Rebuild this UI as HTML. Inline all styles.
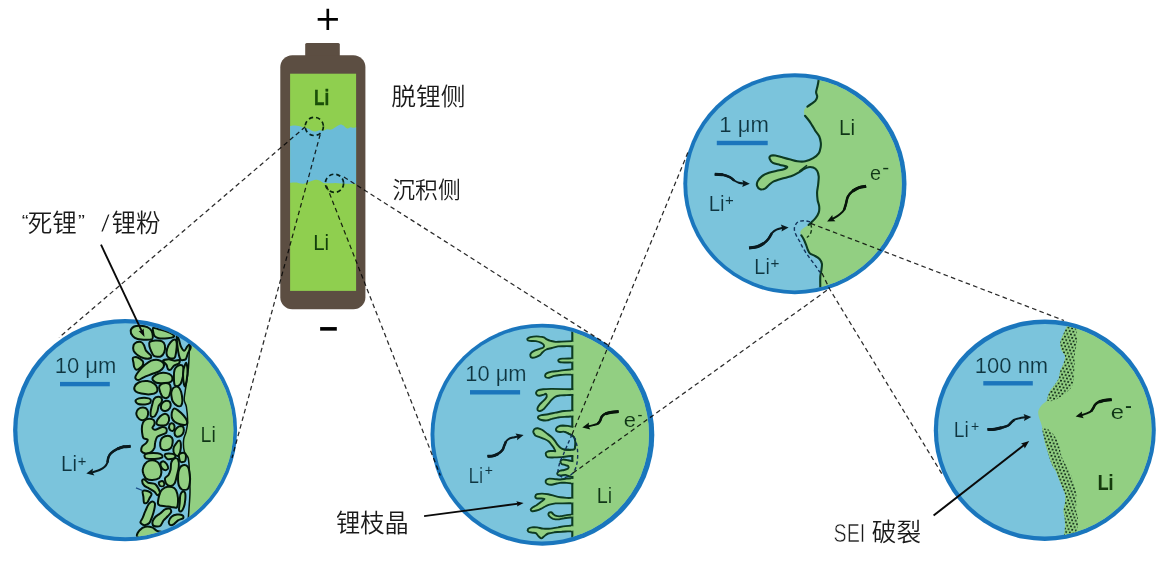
<!DOCTYPE html>
<html lang="zh"><head><meta charset="utf-8">
<style>
html,body{margin:0;padding:0;background:#fff;}
body{width:1167px;height:570px;overflow:hidden;}
svg{display:block;}
text{font-family:"Liberation Sans","Noto Sans CJK SC",sans-serif;}
</style></head><body>
<svg width="1167" height="570" viewBox="0 0 1167 570">
<defs>
<clipPath id="c1"><ellipse cx="125.4" cy="430.2" rx="108" ry="107"/></clipPath>
<clipPath id="c2"><ellipse cx="541.7" cy="434.5" rx="107.3" ry="107"/></clipPath>
<clipPath id="c3"><ellipse cx="794.5" cy="183.8" rx="107.3" ry="106.6"/></clipPath>
<clipPath id="c4"><ellipse cx="1044.8" cy="430.3" rx="106.8" ry="106.3"/></clipPath>
<clipPath id="bat"><rect x="290.1" y="73.7" width="66" height="217.2"/></clipPath>
<pattern id="dots" width="3.7" height="6.3" patternUnits="userSpaceOnUse" patternTransform="rotate(10)"><rect width="3.7" height="6.3" fill="#92cf82"/><g fill="#0c2614"><circle cx="0.95" cy="1.6" r="1.02"/><circle cx="2.8" cy="4.75" r="1.02"/></g></pattern>
</defs>
<g id="battery">
<rect x="305.2" y="43" width="34.6" height="16" rx="1.5" fill="#5c4e42"/>
<rect x="280.3" y="55.3" width="85.1" height="254" rx="12" fill="#5c4e42"/>
<rect x="290.1" y="73.7" width="66" height="217.2" fill="#8fcf4f"/>
<path d="M289 126.2C289.8 126.1 292.2 125.4 294 125.4C295.8 125.4 298 125.8 299.7 126.2C301.4 126.6 302.6 127.4 304 127.8C305.4 128.2 306.7 128.1 308 128.6C309.3 129.1 310.8 130.3 312 130.8C313.2 131.3 314.2 131.6 315.5 131.5C316.8 131.4 318.2 130.3 319.5 130.2C320.8 130 322.1 130.8 323.4 130.6C324.6 130.4 325.7 129.4 327 129.2C328.3 129 330 129.9 331.3 129.6C332.6 129.3 333.9 128.3 335 127.6C336.1 126.9 337 126.1 338 125.6C339 125.1 339.9 124.4 340.8 124.4C341.7 124.4 342.7 125.1 343.5 125.6C344.3 126.1 344.8 127.1 345.5 127.6C346.2 128.1 347.1 128.6 347.9 128.5C348.7 128.4 349.6 127.3 350.5 127.2C351.4 127.1 351.9 127.8 353 127.8C354.1 127.8 356.3 127.1 357 127L357 183.7C355.4 183.7 349.8 183.7 347.1 183.7C344.4 183.7 343 183.6 341 183.5C339 183.4 337.3 182.9 335.3 182.9C333.3 182.9 331 183.3 329 183.3C327 183.3 325 183.4 323.4 182.9C321.8 182.4 320.8 181.1 319.5 180.6C318.2 180.1 317.1 179.5 315.5 179.7C313.9 179.8 312 180.8 310 181.5C308 182.2 305.5 183.4 303.7 183.7C301.9 184 300.3 183.4 299 183.2C297.7 183 297.5 182.6 295.8 182.5C294.1 182.4 290.1 182.8 289 182.9Z" fill="#6bbbd8" clip-path="url(#bat)"/>
</g>
<ellipse cx="125.1" cy="430.1" rx="112" ry="111.2" fill="#1a76bd"/>
<ellipse cx="125.4" cy="430.2" rx="108" ry="107" fill="#7bc4dc"/>
<g clip-path="url(#c1)">
<path d="M190.5 340C190.3 340.8 189.9 339.8 189.6 344.5C189.2 349.2 189.1 360.6 188.4 368.4C187.7 376.1 185.9 385.7 185.2 391C184.5 396.3 184 397.3 184.2 400C184.4 402.7 185.8 403.3 186.4 407C187 410.7 187.7 417.8 187.6 422C187.5 426.2 186.7 429 186 432C185.3 435 183.9 436.7 183.6 440C183.3 443.3 183.6 449 184.4 452C185.2 455 187.3 454.5 188.2 458C189 461.5 189.2 467.3 189.5 473C189.8 478.7 190.1 485.8 190 492C189.9 498.2 189.2 505.3 188.9 510C188.6 514.7 188.4 516.7 188.2 520C188 523.3 187.6 528.3 187.5 530L250 530L250 340Z" fill="#92cf82"/>
<g fill="#92cf82" stroke="#04140a" stroke-width="2.0" stroke-linejoin="round">
<path d="M130.7 330.7C130.9 329.3 132.8 327.2 134.2 326.5C135.6 325.9 138.6 325.7 140.4 325.8C142.3 325.9 145.8 326.5 147.3 327.2C148.8 327.9 150.7 329.5 151.5 330.7C152.2 331.9 152.7 334.4 152.8 335.6C152.9 336.7 153 338.4 152.2 339C151.3 339.6 148.6 339.7 146.6 339.7C144.6 339.7 139.6 339.5 137.7 339C135.7 338.5 133.8 337.4 132.8 336.2C131.8 335.1 130.5 332.1 130.7 330.7Z"/>
<path d="M153.2 327.8C154 327.4 156.9 328.7 158.7 329.2C160.6 329.7 164.3 330.6 166.3 331.3C168.2 332 171.4 333.3 172.5 334.1C173.6 334.8 174.6 336.3 173.9 336.8C173.2 337.4 169.8 338 167.7 338.2C165.5 338.4 160.6 338.5 158.7 338.2C156.9 337.9 155.3 337 154.6 336.2C153.8 335.3 153.4 333.2 153.2 332C153 330.8 152.4 328.2 153.2 327.8Z"/>
<path d="M133.6 345.1C134 343.9 135.3 342.8 136.4 342.3C137.5 341.9 140.2 341.7 141.3 342.1C142.3 342.4 143.3 343.9 143.9 345.1C144.6 346.3 145.1 349.2 146 350.7C147 352.1 150.3 354.4 150.9 355.5C151.5 356.6 151.2 357.9 150.2 358.3C149.2 358.7 145.8 358.8 143.9 358.3C142.1 357.8 138.5 355.9 137.1 354.8C135.7 353.8 134.1 352 133.6 350.7C133.1 349.3 133.2 346.3 133.6 345.1Z"/>
<path d="M149.7 341.9C150.5 341.2 153.5 340.7 155.3 340.6C157 340.5 160.8 340.6 162.1 341.3C163.4 341.9 164.6 343.9 164.9 345.4C165.2 347 164.8 350.8 164.2 352.4C163.6 353.9 162.2 356 160.7 356.5C159.3 357 155.2 356.6 153.9 355.8C152.5 355 151.7 352.3 151.1 351C150.5 349.6 149.6 347.4 149.4 346.1C149.2 344.8 148.9 342.7 149.7 341.9Z"/>
<path d="M166.5 352.1C166.6 350.6 167.7 346.9 168.5 345.2C169.4 343.6 171.7 341.1 172.6 340.3C173.6 339.6 174.8 339.2 175.4 339.7C176 340.1 176.7 342.1 176.8 343.8C176.9 345.6 176.4 350.2 176.1 352.1C175.8 354.1 175.5 356.8 174.7 357.7C173.9 358.6 171.6 358.6 170.6 358.4C169.6 358.2 168 357.2 167.4 356.3C166.9 355.4 166.3 353.7 166.5 352.1Z"/>
<path d="M176.8 335.6C177 334.6 178.3 338.2 178.9 339.7C179.5 341.3 180.2 345.1 181 346.7C181.7 348.2 183.5 350.8 184.3 350.8C185.2 350.8 186.3 347.7 187.1 346.7C187.9 345.7 189.4 343.7 189.9 343.9C190.4 344.1 190.9 346.7 190.6 348.1C190.3 349.4 188.5 352.1 187.8 353.6C187.1 355.2 186.7 358.3 185.7 359.2C184.8 360 181.9 360.4 181 359.9C180 359.3 179.4 356.9 178.9 355C178.4 353.2 177.8 349.4 177.5 346.7C177.2 344 176.6 336.6 176.8 335.6Z"/>
<path d="M132.8 358C133.3 357.2 135.6 356.9 137 357.3C138.3 357.7 141.5 359.8 142.4 360.7C143.3 361.7 143.4 363.2 143.1 364.2C142.8 365.2 141.3 366.9 140.3 367.7C139.4 368.5 137.1 369.9 136.3 369.8C135.4 369.7 134.6 368 134.2 367C133.8 366 133.7 364.1 133.5 362.8C133.3 361.6 132.3 358.7 132.8 358Z"/>
<path d="M135.3 377.3C135.5 375.9 138.1 372.1 139.5 370.4C140.9 368.6 143.4 366.2 145 364.8C146.7 363.4 149.4 361.3 151.2 360.6C153 360 156.5 359.7 158.1 359.9C159.8 360.2 162.2 361.8 163 362.7C163.8 363.7 164.2 365.7 163.7 366.9C163.2 368.1 161.1 370.1 159.5 371.1C158 372 154.8 373 152.6 373.8C150.4 374.7 145.7 376.4 143.7 377.3C141.6 378.2 139.3 380.1 138.1 380.1C136.9 380.1 135.1 378.7 135.3 377.3Z"/>
<path d="M163 360.7C163.3 359.9 167 359.3 168.6 359.3C170.2 359.3 173.2 360.6 174.8 360.7C176.3 360.8 179 359.6 179.6 360C180.2 360.4 179.7 362.7 178.9 363.5C178.1 364.3 175.2 364.7 174.1 365.6C172.9 366.4 171.5 369.2 170.7 369.7C169.8 370.2 168.5 369.7 167.9 369C167.3 368.4 167.2 366 166.5 364.9C165.8 363.7 162.8 361.5 163 360.7Z"/>
<path d="M152.4 378.9C152.3 377.8 154.4 375.7 155.8 374.8C157.3 373.9 160.8 372.8 162.8 372.7C164.7 372.6 168.3 373.4 169.6 374.1C171 374.8 172.2 376.5 172.4 377.6C172.6 378.6 172.1 380.9 171 381.7C169.9 382.5 166.8 383 164.7 383.1C162.7 383.3 158.3 383.4 156.5 382.8C154.8 382.2 152.4 380.1 152.4 378.9Z"/>
<path d="M174.6 369.6C175.1 368.1 176.3 366.7 177.4 366.1C178.5 365.5 181.3 364.9 182.2 365.4C183 365.9 183.5 368 183.6 369.6C183.6 371.2 183.2 374.6 182.9 376.5C182.5 378.5 181.5 382.1 180.8 383.5C180 384.8 178.3 386.1 177.4 386.3C176.5 386.4 175.1 386.2 174.6 384.9C174.1 383.5 173.9 378.7 173.9 376.5C173.9 374.4 174.1 371.1 174.6 369.6Z"/>
<path d="M183.5 369.7C183.9 367.4 185.6 362.8 186.1 362.8C186.7 362.8 187.4 367.4 187.5 369.7C187.6 372 187.2 377.1 186.8 379.4C186.5 381.7 185.4 386.4 184.9 386.4C184.3 386.4 183.4 381.7 183.2 379.4C183 377.1 183.1 372 183.5 369.7Z"/>
<path d="M134.4 387.3C134.8 386.1 136.8 383.4 138.6 382.5C140.4 381.6 145.3 380.9 147.5 381.1C149.7 381.3 153.1 382.9 154.5 383.9C155.8 384.9 156.9 386.9 157.2 388C157.5 389.2 157.5 391.3 156.5 392.2C155.6 393.1 152.4 394.1 150.3 394.3C148.2 394.5 143.4 394 141.4 393.6C139.3 393.2 136.8 392.4 135.8 391.5C134.8 390.6 134 388.6 134.4 387.3Z"/>
<path d="M159.1 387C159.3 385.8 161.2 384.1 162.5 383.6C163.9 383.1 167.5 382.9 168.7 383.6C169.8 384.2 170.7 386.8 170.8 388.4C170.9 390.1 169.9 394 169.4 395.4C168.8 396.7 167.5 397.9 166.6 398.1C165.6 398.3 163.4 397.5 162.5 396.8C161.7 396 160.9 393.9 160.4 392.6C160 391.2 158.8 388.3 159.1 387Z"/>
<path d="M171.4 391.8C171.7 390.7 172.6 388.4 173.5 387.7C174.5 387 177.2 386.4 178.3 387C179.3 387.6 180.5 390 181.1 391.8C181.6 393.7 182.4 398.2 182.4 400.2C182.4 402.1 181.8 404.9 181.1 405.7C180.3 406.5 178 406.3 176.9 405.7C175.7 405.1 173.6 402.9 172.8 401.6C172.1 400.2 171.6 397.4 171.4 396C171.2 394.6 171.1 393 171.4 391.8Z"/>
<path d="M135.5 400.9C135.6 400.2 137.4 398.9 138.9 398.4C140.5 398 144.8 397.7 146.5 397.9C148.1 398 150.2 398.8 150.6 399.5C151.1 400.3 150.7 402.3 150 403C149.2 403.7 146.7 404.3 145.1 404.4C143.5 404.5 139.6 404.5 138.3 404C136.9 403.5 135.4 401.7 135.5 400.9Z"/>
<path d="M150.5 412.7C150.6 411.2 151.4 407.7 151.9 405.8C152.4 403.9 153.1 400.1 154 398.9C154.8 397.6 157 396.9 158.1 396.8C159.1 396.7 161 397.4 161.5 398.2C162 398.9 161.9 401.3 161.5 402.3C161.1 403.4 159.3 404.5 158.7 405.8C158.2 407.1 157.9 409.9 157.4 411.4C156.8 412.8 155.5 415.5 154.7 416.2C153.8 416.9 151.8 417.1 151.2 416.6C150.6 416.1 150.4 414.3 150.5 412.7Z"/>
<path d="M161 405.9C161.2 404.7 162.7 402.4 163.8 401.7C164.8 401 167.6 400.7 168.5 401C169.5 401.3 170.4 402.8 170.6 403.8C170.8 404.8 170.5 407 169.9 408C169.3 408.9 167.6 410.4 166.5 410.7C165.4 411 162.9 410.7 162.1 410C161.3 409.4 160.8 407 161 405.9Z"/>
<path d="M136.3 413.2C136.4 412 137.5 409.8 138.4 409C139.4 408.2 141.9 407.5 143.2 407.6C144.4 407.7 146.7 408.7 147.3 409.7C148 410.7 148.2 413.3 148 414.6C147.8 415.8 146.9 417.9 146 418.7C145 419.5 142.3 420.3 141.2 420.1C140 419.9 138.4 418.3 137.7 417.3C137 416.4 136.2 414.3 136.3 413.2Z"/>
<path d="M171.8 412.7C172.1 411.5 173.2 408.9 173.9 408.6C174.7 408.2 176.1 409 177.4 409.9C178.7 410.9 182.2 413.9 183.6 415.5C184.9 417 186.6 419.8 187 421C187.4 422.3 187.2 424 186.3 424.5C185.5 425 182.4 424.9 180.8 424.5C179.1 424.1 175.9 422.7 174.6 421.7C173.4 420.8 172.2 418.8 171.8 417.6C171.5 416.3 171.6 414 171.8 412.7Z"/>
<path d="M156.6 422C156.9 420.9 158.9 417.6 160 416.5C161.2 415.3 163.6 413.8 164.8 413.7C165.9 413.6 167.7 414.8 168.3 415.8C168.8 416.8 169.2 419.4 169 420.6C168.7 421.9 167.3 424.1 166.2 424.8C165 425.5 162 425.5 160.7 425.5C159.5 425.5 157.8 425 157.2 424.5C156.7 424 156.2 423.2 156.6 422Z"/>
<path d="M169.3 425.3C169.5 424.5 170.7 423.3 171.3 423.2C172 423.1 173.6 423.9 174 424.6C174.5 425.4 174.6 427.9 174.4 428.8C174.2 429.7 173.3 430.8 172.6 430.9C172 431 170.1 430.3 169.7 429.5C169.2 428.7 169 426.2 169.3 425.3Z"/>
<path d="M174.5 433.1C174.5 431.9 175.7 429.2 176.6 428.2C177.5 427.3 179.7 426.2 180.7 426.1C181.6 426.1 183.1 426.7 183.5 427.5C183.8 428.4 183.8 431.2 183.5 432.4C183.1 433.6 181.6 435.3 180.7 435.9C179.7 436.4 177.5 436.9 176.6 436.6C175.7 436.2 174.5 434.3 174.5 433.1Z"/>
<path d="M142.1 425.7C142.4 424 143.2 421.8 144.1 420.8C145.1 419.8 147.7 418.8 149 418.7C150.4 418.6 153 419.3 153.8 420.1C154.5 420.9 154.7 423.2 154.5 424.3C154.3 425.3 152.3 427 152.4 427.7C152.5 428.5 153.8 429.9 155.2 429.8C156.5 429.7 160.5 427.2 162.1 427C163.6 426.9 165.7 427.7 166.3 428.4C166.8 429.2 166.8 431.7 166.3 432.6C165.7 433.5 163.4 434.1 162.1 434.7C160.8 435.3 158.2 435.7 157.2 436.8C156.3 437.8 155.5 440.8 155.2 442.3C154.8 443.9 155 446.5 154.5 447.9C153.9 449.2 152.3 451.3 151.1 452C149.8 452.8 146.9 453.5 145.5 453.4C144.2 453.3 141.9 452.3 141.4 451.3C140.9 450.4 141.4 447.6 142.1 446.5C142.7 445.3 145.5 444 146.2 443C147 442 148 440.2 147.6 439.5C147.2 438.9 144.2 439.1 143.5 438.2C142.7 437.2 142.3 434.3 142.1 432.6C141.9 430.9 141.8 427.3 142.1 425.7Z"/>
<path d="M160.2 442.7C160.4 441.2 161.3 438.8 162.3 437.8C163.4 436.9 166.4 435.8 167.8 435.8C169.1 435.8 171.3 436.9 172 437.8C172.6 438.8 172.8 441.2 172.6 442.7C172.5 444.1 171.6 447.2 170.6 448.2C169.5 449.3 166.5 450.3 165.1 450.3C163.8 450.3 161.6 449.3 160.9 448.2C160.3 447.2 160.1 444.1 160.2 442.7Z"/>
<path d="M176.2 443.4C177 442.2 178.9 440.4 179.5 440.6C180.2 440.8 180.8 443.2 180.9 444.7C181 446.3 180.6 450.1 180.2 451.7C179.8 453.2 178.9 455.5 178.1 455.8C177.4 456.2 175.4 455.4 174.8 454.5C174.1 453.5 173.2 450.5 173.4 448.9C173.6 447.4 175.3 444.5 176.2 443.4Z"/>
<path d="M144.6 454.9C145 454.2 146.9 453.5 148.7 453.2C150.6 453 155.8 453 157.7 453.2C159.5 453.5 161.2 454.3 161.8 454.9C162.4 455.5 162.8 457.1 161.8 457.7C160.9 458.2 157.1 458.9 154.9 459C152.7 459.1 147.4 458.9 146 458.4C144.5 457.8 144.2 455.6 144.6 454.9Z"/>
<path d="M164.6 454.9C164.8 454.1 167.4 453.5 168.8 453.5C170.2 453.5 174.2 454.2 174.9 454.9C175.7 455.5 175.3 457.7 174.3 458.3C173.2 458.9 168.8 459.5 167.4 459C166.1 458.5 164.4 455.6 164.6 454.9Z"/>
<path d="M179 454.7C179.3 453.5 182.1 452.7 183 452.7C184 452.7 185.5 453.6 185.8 454.7C186.1 455.9 185.9 460 185.1 461C184.4 462 181.2 462.6 180.4 461.7C179.5 460.8 178.6 456 179 454.7Z"/>
<path d="M142.7 469.6C142.9 468.3 143.9 465.4 144.8 464.1C145.8 462.8 148 461 149.7 460.6C151.3 460.2 155.1 460.6 156.5 461.3C158 462 159.3 463.9 160 465.5C160.7 467 161.5 470.7 161.4 472.4C161.3 474.2 160.6 476.9 159.3 478C158 479 154.2 480 152.4 480.1C150.5 480.2 147.5 479.5 146.2 478.7C145 477.8 143.9 475.1 143.4 473.8C143 472.5 142.6 471 142.7 469.6Z"/>
<path d="M160.5 463.3C160.7 462.3 162.4 461.1 163.3 461.2C164.2 461.3 166 463 166.7 464C167.3 465 168.3 467.3 168.1 468.2C167.9 469 166.2 470.2 165.3 470.2C164.4 470.2 162.6 469.1 161.9 468.2C161.2 467.2 160.3 464.3 160.5 463.3Z"/>
<path d="M165 478.4C165.3 477.1 167.7 476.2 168.5 474.9C169.3 473.6 170.2 471.1 170.6 469.4C171 467.6 170.7 464 171.3 462.4C171.8 460.9 173.7 458.6 174.7 458.3C175.6 457.9 177.5 458.5 178.1 459.6C178.7 460.8 179 464.3 178.8 466.6C178.6 468.9 177.3 474 176.7 476.3C176.2 478.6 175.5 481.9 174.7 483.2C173.8 484.6 171.7 485.9 170.6 486C169.4 486.1 167.2 485 166.4 483.9C165.6 482.9 164.7 479.6 165 478.4Z"/>
<path d="M178.1 475.7C178.2 473.3 178.8 470.2 179.5 468.7C180.1 467.3 181.8 465.6 182.9 465.3C184.1 465 186.7 465.4 187.7 466.7C188.7 467.9 189.5 472.1 189.8 474.3C190.1 476.5 190.1 480.6 189.8 482.6C189.5 484.7 188.8 487.9 187.7 488.9C186.6 489.8 183.5 490 182.2 489.6C181 489.1 179.4 487.3 178.8 485.4C178.2 483.4 178 478 178.1 475.7Z"/>
<path d="M158.8 482.5C159.1 481.8 161.4 481 162.2 481.1C162.9 481.2 164 482.5 164.2 483.2C164.4 483.9 164.1 485.6 163.5 486C163 486.3 160.8 486.4 160.2 486C159.5 485.5 158.5 483.2 158.8 482.5Z"/>
<path d="M142.1 480.7C142.1 479.8 143.3 479 144.2 479.3C145 479.6 146.8 482.1 148.3 482.8C149.9 483.4 153.7 483.3 155.2 484.1C156.6 485 158 487.7 158.7 489C159.3 490.3 160.2 492.3 160 493.2C159.8 494 158 495.4 157.3 495.2C156.5 495.1 155.6 492.8 154.5 491.8C153.3 490.8 150.5 489.2 149 488.3C147.6 487.4 145.1 486.6 144.2 485.5C143.2 484.5 142.1 481.6 142.1 480.7Z"/>
<path d="M142.7 491.2C143.4 490.4 146.9 490.8 148.2 491.2C149.4 491.6 151.4 493 151.6 494C151.8 495 150.1 497 149.5 498.2C149 499.3 148.2 501.6 147.5 502.3C146.7 503 144.7 503.8 144.1 503C143.5 502.2 143.6 498.4 143.4 496.8C143.2 495.1 142 492 142.7 491.2Z"/>
<path d="M157.9 503.4C157.8 502 158.8 497.1 159.3 495.1C159.9 493.2 160.9 490.7 162.1 489.6C163.3 488.4 165.9 487 167.7 486.8C169.4 486.6 173.2 487.2 174.5 488.2C175.9 489.2 176.8 491.8 177.3 493.7C177.8 495.7 178.1 500.1 178 502.1C177.9 504 177.6 506.9 176.6 507.6C175.6 508.3 172.7 507.1 171 506.9C169.4 506.7 166.4 506.4 164.9 506.2C163.3 506 161 505.9 160 505.5C159.1 505.1 158 504.9 157.9 503.4Z"/>
<path d="M180.4 494.8C180.9 493.1 182.4 491.5 183.1 491.3C183.8 491.1 184.9 492.1 185.2 493.4C185.5 494.6 185.4 498.4 185.2 500.3C185 502.3 184.4 505.7 183.8 507.2C183.2 508.8 181.8 511 181.1 511.4C180.4 511.8 179.2 511.2 179 510C178.8 508.9 179.5 505.2 179.7 503.1C179.9 500.9 179.9 496.4 180.4 494.8Z"/>
<path d="M140.4 522.3C140.2 521.4 141.8 519.7 142.5 518.2C143.2 516.6 144.4 513.2 145.3 511.2C146.1 509.3 147.7 505.6 148.6 504.3C149.6 502.9 151.2 501.6 152.1 501.5C153 501.4 154.6 502.4 154.9 503.6C155.2 504.8 154.6 508 154.2 509.8C153.8 511.7 152.8 514.9 152.1 516.8C151.4 518.6 150.5 521.8 149.3 523C148.2 524.2 145.1 525.2 143.9 525.1C142.6 525 140.6 523.3 140.4 522.3Z"/>
<path d="M152.5 521.9C152.7 520.6 154.2 518.2 155.3 517C156.4 515.8 158.8 514.6 160.1 513.5C161.5 512.5 163.6 510 164.9 509.4C166.3 508.7 168.9 508.3 169.8 508.7C170.6 509.1 171.4 511.1 171.2 512.1C170.9 513.2 168.8 515.1 167.7 516.3C166.6 517.5 164.6 519.1 163.5 520.5C162.5 521.8 161.5 525.2 160.1 526C158.8 526.8 155 526.6 153.9 526C152.8 525.4 152.3 523.1 152.5 521.9Z"/>
<path d="M168.8 521.6C169 520.4 170.4 517.7 171.5 516.7C172.7 515.7 175.5 514.8 177 514.6C178.5 514.4 181.7 514.8 182.5 515.3C183.4 515.8 183.8 517.4 183.2 518.1C182.7 518.8 179.7 519.3 178.4 520.2C177 521 174.8 523.7 173.6 524.3C172.5 525 170.8 525.4 170.2 525C169.5 524.6 168.6 522.7 168.8 521.6Z"/>
<path d="M136.9 535.8C136.6 534.4 138.6 531.5 139.7 530.2C140.9 528.9 143.5 527.1 145.3 526.7C147 526.3 150.5 526.8 152.1 527.4C153.8 528 155.5 530.1 157 530.9C158.4 531.7 163.5 531.7 162.5 533C161.5 534.2 152.8 538.9 150 539.9C147.2 540.9 144.3 540.5 142.5 539.9C140.7 539.3 137.3 537.1 136.9 535.8Z"/>
</g>
<path d="M190.5 340C190.3 340.8 189.9 339.8 189.6 344.5C189.2 349.2 189.1 360.6 188.4 368.4C187.7 376.1 185.9 385.7 185.2 391C184.5 396.3 184 397.3 184.2 400C184.4 402.7 185.8 403.3 186.4 407C187 410.7 187.7 417.8 187.6 422C187.5 426.2 186.7 429 186 432C185.3 435 183.9 436.7 183.6 440C183.3 443.3 183.6 449 184.4 452C185.2 455 187.3 454.5 188.2 458C189 461.5 189.2 467.3 189.5 473C189.8 478.7 190.1 485.8 190 492C189.9 498.2 189.2 505.3 188.9 510C188.6 514.7 188.4 516.7 188.2 520C188 523.3 187.6 528.3 187.5 530" fill="none" stroke="#04140a" stroke-width="1.5"/>
<path d="M136 487.8L142.5 490.5" stroke="#1b4f8a" stroke-width="1.3" fill="none"/>
</g>
<path d="M101 244.7L142.1 331.9" fill="none" stroke="#0a0a0a" stroke-width="1.9" stroke-linecap="butt" stroke-linejoin="round"/>
<path d="M144.5 337L138.6 330.9L141.6 330.8L143.6 328.6Z" fill="#0a0a0a"/>
<path d="M130.5 446.3C129.4 446.4 125.9 446.4 123.7 446.8C121.5 447.2 119.5 447.8 117.4 448.9C115.3 450 112.5 451.8 111 453.2C109.5 454.6 109 455.8 108.4 457.4C107.8 459 108 461 107.4 462.6C106.8 464.2 106 465.6 104.7 466.8C103.4 468 101.4 469.1 99.5 470C97.6 470.9 94.5 471.7 93.2 472.1C91.9 472.5 91.7 472.4 91.4 472.5" fill="none" stroke="#0a1a1f" stroke-width="2.0" stroke-linecap="butt" stroke-linejoin="round"/>
<path d="M130.5 446.3C129.4 446.4 125.9 446.4 123.7 446.8C121.5 447.2 119.5 447.8 117.4 448.9C115.3 450 112.5 451.8 111 453.2C109.5 454.6 109 455.8 108.4 457.4C107.8 459 107.6 461.7 107.4 462.6" fill="none" stroke="#0a1a1f" stroke-width="2.5" stroke-linecap="butt"/>
<path d="M130.5 446.3C129.4 446.4 125.9 446.4 123.7 446.8C121.5 447.2 118.5 448.5 117.4 448.9" fill="none" stroke="#0a1a1f" stroke-width="3" stroke-linecap="butt"/>
<path d="M86.3 473.6L92.9 468.6L92.5 472.2L94.4 475.4Z" fill="#0a1a1f"/>
<rect x="60" y="381.9" width="49.8" height="4.4" fill="#1b75bc"/>
<ellipse cx="542.4" cy="434.7" rx="111.9" ry="111" fill="#1a76bd"/>
<ellipse cx="541.7" cy="434.5" rx="107.3" ry="107" fill="#7bc4dc"/>
<g clip-path="url(#c2)">
<rect x="572.3" y="310" width="100" height="250" fill="#92cf82"/>
<path d="M572.3 320V550" stroke="#0d3a22" stroke-width="2.1" fill="none"/>
<g fill="#92cf82" stroke="#0d3a22" stroke-width="1.9" stroke-linejoin="round">
<path d="M572.5 341.1C570.9 341.2 564.2 341.5 561.7 341.6C559.1 341.7 557.2 342 555.5 341.9C553.9 341.7 551.9 341.2 550.6 340.9C549.3 340.5 547.9 339.9 546.9 339.4C545.9 338.9 545 337.9 543.9 337.4C542.8 337 541.1 336.7 539.6 336.6C538 336.4 535.1 336.4 533.4 336.6C531.8 336.8 529.4 337.3 528.5 337.8C527.6 338.3 527.1 339.2 527.3 339.6C527.5 340.1 528.4 340.7 529.7 340.9C531 341.1 534.2 340.8 535.9 341.1C537.5 341.4 539.6 342.1 540.8 342.7C542 343.3 543.5 344.4 543.9 345.2C544.2 345.9 543.9 347.1 543.2 347.6C542.6 348.2 540.9 348.4 539.6 348.9C538.3 349.3 535.9 350.1 534.6 350.7C533.4 351.3 531.6 352.3 531 353.2C530.3 354 530.2 355.5 530.4 356.2C530.5 356.9 531.3 357.7 532.2 357.8C533.1 357.9 535.3 357.3 536.5 356.8C537.7 356.4 539.3 355.7 540.2 355C541.1 354.3 541.7 353 542.6 352.2C543.6 351.3 544.9 350.1 546.3 349.5C547.7 348.8 550.1 348.5 551.8 348C553.6 347.5 556.1 346.7 558 346.4C559.8 346.1 561.9 346.2 564.1 346.2C566.3 346.1 571.2 346.2 572.5 346.2"/>
<path d="M572.5 358.4C571.2 358.5 566 358.5 564.1 358.6C562.3 358.6 561.1 358.5 560.2 358.8C559.3 359.1 558.2 360 558.2 360.5C558.2 361 559.3 362 560.2 362.2C561.1 362.5 562.3 362.5 564.1 362.5C566 362.5 571.2 362.4 572.5 362.4"/>
<path d="M572.5 369.4C571.2 369.5 566.3 369.9 564.1 370.1C561.9 370.3 559.8 370.7 558 371C556.1 371.2 553.5 371.3 551.8 371.6C550.2 371.9 547.9 372.5 546.9 373.1C545.9 373.6 545.2 374.6 545.1 375.3C545 375.9 545.7 377.1 546.3 377.5C547 377.8 548.2 378 549.4 377.7C550.6 377.5 552.6 376.3 554.3 375.9C556 375.5 558.6 375.2 560.4 375C562.3 374.8 564.8 374.7 566.6 374.6C568.4 374.6 571.6 374.6 572.5 374.6"/>
<path d="M573.2 389.3C571.8 389.3 567.3 389.1 564.1 389.1C560.9 389 555 388.9 551.8 388.9C548.7 389 545.3 389.1 543.2 389.3C541.2 389.5 539.4 389.7 538.3 390.2C537.3 390.6 536.3 391.7 536.1 392.4C535.9 393.1 536.3 394.3 536.9 394.8C537.4 395.3 538.5 395.8 539.6 395.8C540.6 395.8 542.9 394.9 543.9 394.6C544.8 394.3 545.5 393.5 545.9 393.8C546.4 394.2 546.8 395.9 546.7 396.7C546.6 397.5 545.7 398.4 545.1 399.1C544.5 399.9 543.5 400.8 542.6 401.6C541.8 402.4 540.3 403.7 539.6 404.6C538.8 405.6 538 406.9 537.7 407.7C537.4 408.5 537.4 409.7 537.7 410.2C538.1 410.7 539.3 411.2 540.2 411C541.1 410.9 542.8 409.9 543.9 408.9C545 408 546.3 406 547.5 404.6C548.7 403.3 550.6 400.9 551.8 399.7C553 398.5 554.2 397.3 555.5 396.7C556.8 396 558.8 395.7 560.4 395.4C562.1 395.2 564.7 395.2 566.6 395.1C568.5 395 572.2 394.9 573.2 394.8"/>
<path d="M573.2 410.5C571.8 410.6 566.8 410.7 564.1 411C561.5 411.3 557.9 412.2 555.5 412.6C553.1 413.1 550.3 413.9 548.2 414.2C546 414.6 542.9 414.8 541.4 415.1C539.9 415.4 538.8 415.8 538.3 416.3C537.9 416.8 537.9 417.9 538.3 418.4C538.8 419 540.1 419.7 541.4 420C542.7 420.3 545.4 420.6 546.9 420.4C548.5 420.2 550.2 419.2 551.8 418.8C553.5 418.3 555.8 417.9 558 417.5C560.2 417.2 564.3 416.9 566.6 416.7C568.9 416.5 572.2 416.4 573.2 416.3"/>
<path d="M573.2 427C572.4 426.8 569.4 426.1 567.8 425.9C566.3 425.7 564.3 425.5 562.9 425.5C561.5 425.6 559.6 425.9 558.6 426.4C557.6 426.8 556.5 427.9 556.1 428.6C555.8 429.3 556 430.5 556.5 431.1C557.1 431.6 558.7 431.9 559.8 432C561 432.1 563 431.5 564.1 431.7C565.2 431.8 566.2 432.4 567.2 432.9C568.2 433.4 569.9 434.1 570.9 434.7C571.9 435.4 573.3 436.2 573.9 437.2C574.6 438.2 575 439.9 575.2 441.5C575.3 443.1 575.1 446.4 574.9 447.6C574.7 448.8 574.8 449.1 573.9 449.5C573.1 449.8 570.5 449.8 569 449.8C567.6 449.8 565.3 449.7 564.1 449.5C562.9 449.2 562.1 449 561.1 448.2C560 447.5 558.3 445.7 557.4 444.6C556.4 443.5 555.7 442 554.9 440.9C554.1 439.8 553 438.3 551.8 437.2C550.6 436.1 548.4 434.6 546.9 433.5C545.5 432.4 543.4 430.6 542 429.8C540.6 429 538.8 428.4 537.7 428.2C536.6 428.1 535.3 428.5 534.6 429C534 429.4 533.6 430.6 533.4 431.1C533.2 431.6 533.1 431.6 533.4 432.3C533.7 432.9 534.3 434.6 535.3 435.4C536.2 436.1 538.2 436.6 539.6 437.2C540.9 437.7 543.1 438.4 544.5 439C545.9 439.7 547.7 440.6 548.8 441.5C549.9 442.4 551 444.1 551.8 445.2C552.7 446.3 553.8 447.9 554.3 448.9C554.8 449.8 555.3 451 555.3 451.3C555.2 451.6 554.8 450.8 554.1 450.7C553.4 450.7 551.6 450.8 550.6 451C549.6 451.1 548.3 451.2 547.5 451.6C546.8 451.9 545.7 452.6 545.7 453.4C545.7 454.2 546.3 456.5 547.5 457.1C548.8 457.7 552.2 457.4 554.3 457.4C556.4 457.4 559.8 457.2 561.7 457.1C563.5 457 564.8 456.7 566.6 456.5C568.3 456.3 572.2 456 573.2 455.9"/>
<path d="M573.2 461.4C572.4 461.2 569.4 460.5 567.8 460.2C566.3 459.9 564 459.4 562.9 459.6C561.8 459.7 560.6 460.8 560.4 461.4C560.3 462 560.9 463.3 561.7 463.9C562.4 464.4 564.3 464.7 565.4 465.1C566.4 465.5 568.1 465.8 568.4 466.3C568.8 466.9 568.5 468.2 567.8 468.8C567.2 469.3 565.2 469.7 564.1 470C563 470.3 561.4 470.3 560.4 470.6C559.5 470.9 558.4 471.3 558 471.8C557.5 472.4 557 473.7 557.4 474.3C557.7 474.9 559.2 475.4 560.4 475.5C561.6 475.6 564.1 474.8 565.4 474.9C566.6 475 567.9 475.9 569 476.1C570.2 476.4 572.6 476.7 573.2 476.8"/>
<path d="M573.2 478C572.2 478.1 568.5 478.4 566.6 478.6C564.7 478.8 562.3 479.4 560.4 479.5C558.6 479.5 556 479.1 554.3 479C552.6 478.8 550.6 478.5 549.4 478.6C548.2 478.7 546.9 479.3 546.3 479.8C545.8 480.4 545.5 481.6 545.7 482.3C545.9 482.9 546.6 483.8 547.5 484.1C548.5 484.5 550.5 484.8 551.8 484.7C553.2 484.6 555.3 483.8 556.8 483.5C558.2 483.2 560.2 482.7 561.7 482.6C563.1 482.6 564.8 482.8 566.6 482.9C568.3 483 572.2 483.4 573.2 483.5"/>
<path d="M572.7 497.9C571.8 497.9 568.4 498 566.6 497.9C564.7 497.8 562.3 497.6 560.4 497.3C558.6 497 556.1 496.3 554.3 495.8C552.5 495.3 550 494.5 548.2 494.2C546.3 493.9 543.7 493.6 542 493.6C540.4 493.6 538.1 493.8 537.1 494.2C536.1 494.6 535.4 495.7 535.3 496.3C535.2 496.9 535.7 497.9 536.5 498.3C537.3 498.6 539.6 498.4 540.8 498.5C542 498.6 544.4 498.7 544.5 499.1C544.6 499.6 542.6 500.7 541.4 501.6C540.2 502.5 537.9 504.3 536.5 505.3C535.1 506.2 533.1 507.1 532.2 507.7C531.3 508.4 530.7 509 530.7 509.6C530.7 510.1 531.3 511 532.2 511.2C533.1 511.3 535.2 510.9 536.5 510.5C537.8 510.2 539.5 509.6 540.8 508.9C542.1 508.3 543.8 507.1 545.1 506.5C546.4 505.8 547.8 505.1 549.4 504.6C551 504.2 553.5 503.6 555.5 503.4C557.6 503.2 560.3 503.5 562.9 503.4C565.5 503.4 571.2 503.2 572.7 503.2"/>
<path d="M572.7 514.5C571.8 514.6 568.4 514.8 566.6 515.1C564.7 515.4 562.1 516.2 560.4 516.3C558.8 516.4 556.6 516.1 555.5 515.7C554.4 515.3 553.7 514.4 553.1 513.9C552.4 513.3 551.8 512.4 551.2 512.3C550.6 512.1 549.6 512.3 549.1 512.6C548.7 513 548.3 513.8 548.4 514.5C548.5 515.1 549.3 516.3 550 516.9C550.7 517.6 551.9 518.4 553.1 518.8C554.3 519.1 556.3 519.5 558 519.4C559.6 519.3 561.9 518.5 564.1 518.2C566.3 517.8 571.4 517.3 572.7 517.2"/>
<path d="M572.7 525.5C571.6 525.6 567.6 525.9 565.4 526.1C563.1 526.4 560.2 527 558 527.4C555.8 527.7 552.8 528.4 550.6 528.6C548.4 528.8 545.3 528.8 543.2 528.6C541.2 528.4 538.9 527.6 537.1 527.4C535.4 527.2 533 527.1 531.6 527.4C530.2 527.6 528.4 528.6 527.9 529.2C527.4 529.9 527.9 531.2 528.5 531.7C529.2 532.2 531.1 532.4 532.2 532.6C533.3 532.9 535 532.6 535.9 533.1C536.8 533.6 537.5 535.2 538.3 536C539.2 536.8 540.5 538.4 541.4 538.4C542.3 538.4 543.5 536.7 544.5 536C545.5 535.2 546.7 534.1 548.2 533.5C549.6 533 552.3 532.6 554.3 532.3C556.3 532 559.6 531.8 561.7 531.7C563.7 531.5 566.1 531.5 567.8 531.4C569.5 531.4 572 531.4 572.7 531.4"/>
</g>
<g fill="#92cf82">
<rect x="571" y="342" width="3.4" height="3.2"/>
<rect x="571" y="359.3" width="3.4" height="2.1"/>
<rect x="571" y="370.3" width="3.4" height="3.5"/>
<rect x="571" y="390.2" width="3.4" height="3.7"/>
<rect x="571" y="411.4" width="3.4" height="4"/>
<rect x="571" y="427.9" width="3.4" height="7.6"/>
<rect x="571" y="449.4" width="3.4" height="5.6"/>
<rect x="571" y="462.3" width="3.4" height="7.6"/>
<rect x="571" y="470.3" width="3.4" height="5.6"/>
<rect x="571" y="478.9" width="3.4" height="3.7"/>
<rect x="571" y="498.8" width="3.4" height="3.5"/>
<rect x="571" y="515.4" width="3.4" height="0.9"/>
<rect x="571" y="526.4" width="3.4" height="4.1"/>
</g>
<path d="M569 435.6L572.5 436.1L574.3 437.8L575.1 441.5L574.8 447.4L573.7 448.9L569 449Z" fill="#7bc4dc"/>
<path d="M567.2 432.9C567.7 433.2 569.9 434.1 570.9 434.7C571.9 435.4 573.3 436.2 573.9 437.2C574.6 438.2 575 439.9 575.2 441.5C575.3 443.1 575.1 446.4 574.9 447.6C574.7 448.8 574.8 449.1 573.9 449.5C573.1 449.8 570.5 449.8 569 449.8C567.6 449.8 564.9 449.5 564.1 449.5" fill="none" stroke="#0d3a22" stroke-width="1.9" stroke-linejoin="round"/>
</g>
<path d="M572 434.5C571.2 436.2 568.9 441.6 567.4 445C565.9 448.4 564.5 451.7 563.2 454.7C561.9 457.7 560.4 460.1 559.6 463.2C558.8 466.2 557.5 470.6 558.2 473C558.9 475.4 561.5 477.5 564 477.5C566.5 477.5 570.8 475.4 573 473C575.2 470.6 576.2 466.8 577 463C577.8 459.2 577.8 453.8 577.5 450C577.2 446.2 576.4 442.6 575.5 440C574.6 437.4 572.6 435.4 572 434.5" fill="none" stroke="#12325a" stroke-width="1.4" stroke-dasharray="3.6 2.6"/>
<path d="M487.6 456.2C488.5 456.1 491.4 456.3 493.2 455.9C494.9 455.5 496.6 454.8 498.1 453.8C499.6 452.8 501.4 451.4 502.4 450.1C503.4 448.8 503.6 447.2 504.2 445.8C504.8 444.4 505.1 442.7 506 441.5C506.9 440.3 508.3 439.1 509.7 438.4C511.1 437.7 513.1 437.6 514.6 437.2C516.1 436.8 517.9 436.4 518.5 436.2" fill="none" stroke="#0a1a1f" stroke-width="2.0" stroke-linecap="butt" stroke-linejoin="round"/>
<path d="M487.6 456.2C488.5 456.1 491.4 456.3 493.2 455.9C494.9 455.5 496.6 454.8 498.1 453.8C499.6 452.8 501.4 451.4 502.4 450.1C503.4 448.8 503.6 447.2 504.2 445.8C504.8 444.4 505.7 442.2 506 441.5" fill="none" stroke="#0a1a1f" stroke-width="2.5" stroke-linecap="butt"/>
<path d="M487.6 456.2C488.5 456.1 491.4 456.3 493.2 455.9C494.9 455.5 497.3 454.1 498.1 453.8" fill="none" stroke="#0a1a1f" stroke-width="3" stroke-linecap="butt"/>
<path d="M523.6 435L517.1 440.2L517.4 436.5L515.5 433.4Z" fill="#0a1a1f"/>
<path d="M618.5 411.6C617.4 411.7 613.9 411.9 611.7 412.2C609.6 412.5 607.2 413 605.6 413.7C604 414.4 602.8 415.3 601.9 416.5C601 417.7 600.8 419.6 600.1 420.8C599.4 422 598.7 423.2 597.6 423.9C596.5 424.6 594.8 424.7 593.3 425.1C591.8 425.5 589.4 426.1 588.4 426.3C587.4 426.5 587.6 426.5 587.5 426.5" fill="none" stroke="#07140a" stroke-width="2.0" stroke-linecap="butt" stroke-linejoin="round"/>
<path d="M618.5 411.6C617.4 411.7 613.9 411.9 611.7 412.2C609.6 412.5 607.2 413 605.6 413.7C604 414.4 602.8 415.3 601.9 416.5C601 417.7 600.8 419.6 600.1 420.8C599.4 422 598 423.4 597.6 423.9" fill="none" stroke="#07140a" stroke-width="2.5" stroke-linecap="butt"/>
<path d="M618.5 411.6C617.4 411.7 613.9 411.9 611.7 412.2C609.6 412.5 606.6 413.4 605.6 413.7" fill="none" stroke="#07140a" stroke-width="3" stroke-linecap="butt"/>
<path d="M582.3 427.5L589 422.6L588.6 426.3L590.3 429.5Z" fill="#07140a"/>
<path d="M424.1 516.2L518.7 503.6" fill="none" stroke="#0a0a0a" stroke-width="1.8" stroke-linecap="butt" stroke-linejoin="round"/>
<path d="M523.6 503L517 506.6L517.7 503.8L516.3 501.2Z" fill="#0a0a0a"/>
<rect x="470" y="390.1" width="50.1" height="4.4" fill="#1b75bc"/>
<ellipse cx="794.9" cy="183.7" rx="111.6" ry="110.5" fill="#1a76bd"/>
<ellipse cx="794.5" cy="183.8" rx="107.3" ry="106.6" fill="#7bc4dc"/>
<g clip-path="url(#c3)">
<path d="M819.2 76C819.1 76.5 818.9 78 818.7 79.5C818.5 81 818 83.9 817.6 85.8C817.2 87.7 816.2 90.4 816.1 92.1C816 93.8 817.3 95.5 817.2 96.8C817.1 98.1 816.2 99.7 815.3 100.8C814.4 101.9 812.5 103 811.3 103.9C810.1 104.8 808.4 105.8 807.4 106.6C806.4 107.4 805.1 108.5 804.6 109.2C804.1 109.9 804 110.7 803.9 111.4C803.8 112.1 804 112.9 804.2 113.6C804.4 114.3 804.3 114.8 805 115.8C805.7 116.8 807.8 119.1 808.9 120.5C810 121.9 811.1 123.8 812.1 125.3C813.1 126.8 814.2 129.2 815.3 130.8C816.4 132.5 818.4 134.5 819.2 136.3C820 138.1 820.6 140.9 820.8 142.6C821 144.3 820.9 145.9 820.6 147.5C820.3 149.1 819.8 151.8 818.7 153.4C817.6 155 815.2 157 813.2 158.2C811.2 159.4 807.7 160.8 805.3 161.3C802.9 161.8 799.8 161.6 797.4 161.3C795 161 791.9 159.9 789.5 159.3C787.1 158.7 783.7 157.7 781.6 157.1C779.5 156.5 777 155.7 775.3 155.5C773.6 155.3 771.3 155.3 770.5 155.8C769.7 156.3 769.3 157.8 769.7 158.9C770.1 160 771.4 162 772.9 162.9C774.4 163.8 777.9 164.3 780 164.9C782.1 165.5 786.5 166.2 787.1 166.8C787.7 167.4 785.4 168.6 783.9 169.2C782.4 169.8 779 170.3 776.8 170.8C774.5 171.3 771.1 172 768.9 172.8C766.6 173.6 763.5 175 761.8 176.3C760.1 177.6 758.3 180 757.6 181.4C756.9 182.8 756.7 184.6 757.1 185.8C757.5 187 759.1 188.9 760.3 189.3C761.5 189.7 763.7 189.2 765 188.6C766.3 188 767.6 186.1 768.9 185C770.2 183.9 771.8 182.3 773.7 181.4C775.6 180.5 779 179.5 781.6 178.7C784.2 177.9 788.4 177.2 791 176.3C793.6 175.4 797 173.5 798.9 172.4C800.8 171.3 802.3 170 803.7 169.2C805.1 168.4 807 167.4 808.4 167.2C809.8 167 811.9 167.1 813.2 167.6C814.5 168.1 816.3 169.5 817.1 170.8C817.9 172.1 818.5 174.3 818.7 176.3C818.9 178.3 818.4 181.8 818.2 184.2C818 186.6 817.2 189.7 817.1 192.1C817 194.5 817.3 197.9 817.6 200C817.9 202.1 819 204.4 819.2 206.3C819.4 208.2 819.3 210.8 818.7 212.6C818.1 214.4 816.7 216.7 815.5 218.2C814.3 219.7 811.8 221.9 810.8 222.9C809.8 223.9 809.5 224.4 808.6 225C807.7 225.6 806.1 226.5 805 227.2C803.9 227.9 802.2 229 801.5 229.8C800.8 230.6 800.3 231.8 800.3 232.6C800.3 233.4 800.8 234.3 801.3 235.3C801.8 236.3 803 237.8 803.7 239.2C804.4 240.6 805.5 243.3 806.1 244.8C806.7 246.3 807.1 248.2 807.7 249.5C808.3 250.8 808.9 252.6 810 253.5C811.1 254.4 813.4 255 814.8 255.8C816.2 256.6 818.4 257.8 819.5 259C820.6 260.2 821.6 262.1 821.9 263.7C822.2 265.3 821.6 268.1 821.4 270C821.2 271.9 820.5 273.8 820.3 276.4C820.1 279 820.3 285.1 820.3 287.4C820.3 289.7 820.5 291.3 820.5 292L920 292L920 76Z" fill="#92cf82"/>
<path d="M819.2 76C819.1 76.5 818.9 78 818.7 79.5C818.5 81 818 83.9 817.6 85.8C817.2 87.7 816.2 90.4 816.1 92.1C816 93.8 817.3 95.5 817.2 96.8C817.1 98.1 816.2 99.7 815.3 100.8C814.4 101.9 812.5 103 811.3 103.9C810.1 104.8 808 106.2 807.4 106.6" fill="none" stroke="#0d3a22" stroke-width="2.1" stroke-linecap="round"/>
<path d="M805 115.8C805.6 116.5 807.8 119.1 808.9 120.5C810 121.9 811.1 123.8 812.1 125.3C813.1 126.8 814.2 129.2 815.3 130.8C816.4 132.5 818.4 134.5 819.2 136.3C820 138.1 820.6 140.9 820.8 142.6C821 144.3 820.9 145.9 820.6 147.5C820.3 149.1 819.8 151.8 818.7 153.4C817.6 155 815.2 157 813.2 158.2C811.2 159.4 807.7 160.8 805.3 161.3C802.9 161.8 799.8 161.6 797.4 161.3C795 161 791.9 159.9 789.5 159.3C787.1 158.7 783.7 157.7 781.6 157.1C779.5 156.5 777 155.7 775.3 155.5C773.6 155.3 771.3 155.3 770.5 155.8C769.7 156.3 769.3 157.8 769.7 158.9C770.1 160 771.4 162 772.9 162.9C774.4 163.8 777.9 164.3 780 164.9C782.1 165.5 786.5 166.2 787.1 166.8C787.7 167.4 785.4 168.6 783.9 169.2C782.4 169.8 779 170.3 776.8 170.8C774.5 171.3 771.1 172 768.9 172.8C766.6 173.6 763.5 175 761.8 176.3C760.1 177.6 758.3 180 757.6 181.4C756.9 182.8 756.7 184.6 757.1 185.8C757.5 187 759.1 188.9 760.3 189.3C761.5 189.7 763.7 189.2 765 188.6C766.3 188 767.6 186.1 768.9 185C770.2 183.9 771.8 182.3 773.7 181.4C775.6 180.5 779 179.5 781.6 178.7C784.2 177.9 788.4 177.2 791 176.3C793.6 175.4 797 173.5 798.9 172.4C800.8 171.3 802.3 170 803.7 169.2C805.1 168.4 807 167.4 808.4 167.2C809.8 167 811.9 167.1 813.2 167.6C814.5 168.1 816.3 169.5 817.1 170.8C817.9 172.1 818.5 174.3 818.7 176.3C818.9 178.3 818.4 181.8 818.2 184.2C818 186.6 817.2 189.7 817.1 192.1C817 194.5 817.3 197.9 817.6 200C817.9 202.1 819 204.4 819.2 206.3C819.4 208.2 819.3 210.8 818.7 212.6C818.1 214.4 816.7 216.7 815.5 218.2C814.3 219.7 811.8 221.9 810.8 222.9C809.8 223.9 808.9 224.7 808.6 225" fill="none" stroke="#0d3a22" stroke-width="2.1" stroke-linecap="round"/>
<path d="M801.3 235.3C801.7 235.9 803 237.8 803.7 239.2C804.4 240.6 805.5 243.3 806.1 244.8C806.7 246.3 807.1 248.2 807.7 249.5C808.3 250.8 808.9 252.6 810 253.5C811.1 254.4 813.4 255 814.8 255.8C816.2 256.6 818.4 257.8 819.5 259C820.6 260.2 821.6 262.1 821.9 263.7C822.2 265.3 821.6 268.1 821.4 270C821.2 271.9 820.5 273.8 820.3 276.4C820.1 279 820.3 285.1 820.3 287.4C820.3 289.7 820.5 291.3 820.5 292" fill="none" stroke="#0d3a22" stroke-width="2.1" stroke-linecap="round"/>
<path d="M799.8 170.8L806.6 165.6" fill="none" stroke="#0d3a22" stroke-width="1.5" stroke-linecap="round"/>
</g>
<rect x="716.8" y="140.8" width="50.9" height="4.4" fill="#1b75bc"/>
<path d="M714.8 174.2C716.1 174.3 720.3 174.3 722.8 174.8C725.3 175.3 727.8 176.2 729.7 177.1C731.6 178 732.7 179.6 734.2 180.5C735.7 181.4 737.1 182.3 738.8 182.8C740.5 183.3 743.5 183.4 744.5 183.5C745.5 183.6 744.5 183.5 744.6 183.5" fill="none" stroke="#0a1a1f" stroke-width="2.0" stroke-linecap="butt" stroke-linejoin="round"/>
<path d="M714.8 174.2C716.1 174.3 720.3 174.3 722.8 174.8C725.3 175.3 727.8 176.2 729.7 177.1C731.6 178 733.5 179.9 734.2 180.5" fill="none" stroke="#0a1a1f" stroke-width="2.5" stroke-linecap="butt"/>
<path d="M714.8 174.2L722.8 174.8" fill="none" stroke="#0a1a1f" stroke-width="3" stroke-linecap="butt"/>
<path d="M749.8 183.7L742.2 186.9L743.4 183.5L742.4 179.9Z" fill="#0a1a1f"/>
<path d="M749.1 247.9C750.4 247.7 754.6 247.6 757.1 246.8C759.6 246 762 244.6 763.9 243.3C765.8 242 767.2 240.5 768.5 238.8C769.8 237.1 770.6 234.6 771.9 233.1C773.2 231.6 774.8 230.4 776.5 229.6C778.2 228.8 781.1 228.3 782.2 228C783.3 227.7 783.2 227.9 783.4 227.9" fill="none" stroke="#0a1a1f" stroke-width="2.0" stroke-linecap="butt" stroke-linejoin="round"/>
<path d="M749.1 247.9C750.4 247.7 754.6 247.6 757.1 246.8C759.6 246 762 244.6 763.9 243.3C765.8 242 767.2 240.5 768.5 238.8C769.8 237.1 771.3 234.1 771.9 233.1" fill="none" stroke="#0a1a1f" stroke-width="2.5" stroke-linecap="butt"/>
<path d="M749.1 247.9C750.4 247.7 754.6 247.6 757.1 246.8C759.6 246 762.8 243.9 763.9 243.3" fill="none" stroke="#0a1a1f" stroke-width="3" stroke-linecap="butt"/>
<path d="M788.6 227.4L781.5 231.6L782.3 228L780.8 224.6Z" fill="#0a1a1f"/>
<path d="M866.1 186.3C864.9 186.5 861.2 186.8 859 187.6C856.8 188.4 854.5 189.6 852.6 191.1C850.8 192.6 849 194.5 847.9 196.6C846.8 198.7 846.6 201.5 846 203.7C845.4 205.9 845.1 208.2 844 210C842.9 211.8 840.9 213.3 839.2 214.7C837.5 216.1 834.9 217.5 833.7 218.2C832.5 218.9 832.1 219 831.8 219.1" fill="none" stroke="#07140a" stroke-width="2.0" stroke-linecap="butt" stroke-linejoin="round"/>
<path d="M866.1 186.3C864.9 186.5 861.2 186.8 859 187.6C856.8 188.4 854.5 189.6 852.6 191.1C850.8 192.6 849 194.5 847.9 196.6C846.8 198.7 846.6 201.5 846 203.7C845.4 205.9 844.3 208.9 844 210" fill="none" stroke="#07140a" stroke-width="2.5" stroke-linecap="butt"/>
<path d="M866.1 186.3C864.9 186.5 861.2 186.8 859 187.6C856.8 188.4 853.7 190.5 852.6 191.1" fill="none" stroke="#07140a" stroke-width="3" stroke-linecap="butt"/>
<path d="M827.1 221.4L832.3 215L832.8 218.6L835.4 221.3Z" fill="#07140a"/>
<path d="M810 221.8C809 221.6 805.7 220.7 803.7 220.7C801.7 220.7 799.7 221 798.2 221.8C796.8 222.7 795.6 224.4 795 225.8C794.4 227.2 794.2 228.8 794.5 230.5C794.8 232.2 795.7 234.2 796.6 236.1C797.5 237.9 798.8 239.6 799.8 241.6C800.8 243.6 801.7 245.8 802.9 247.9C804.1 250 805.4 252.1 806.9 254.2C808.4 256.3 810 258.5 811.6 260.6C813.2 262.7 815 265.1 816.3 266.9C817.6 268.7 818.6 270.6 819.5 271.6C820.4 272.6 821.5 272.8 821.9 273" fill="none" stroke="#12325a" stroke-width="1.4" stroke-dasharray="3.6 2.6"/>
<path d="M810.8 224C810.9 224.8 811.7 227.2 811.6 229C811.5 230.8 810.8 233.1 810 234.5C809.2 235.9 807.3 237.1 806.8 237.6" fill="none" stroke="#163a16" stroke-width="1.4" stroke-dasharray="3.6 2.6"/>
<ellipse cx="1044.8" cy="430.2" rx="111" ry="110.8" fill="#1a76bd"/>
<ellipse cx="1044.8" cy="430.3" rx="106.8" ry="106.3" fill="#7bc4dc"/>
<g clip-path="url(#c4)">
<path d="M1068 324C1067.9 324.4 1067.7 325.3 1067.1 326.8C1066.5 328.3 1064.8 331.6 1063.9 333.9C1063 336.1 1061.1 339.4 1060.8 341.8C1060.5 344.2 1060.9 347.6 1061.6 349.7C1062.3 351.8 1065.2 354 1065.5 356.1C1065.8 358.2 1064.6 361.8 1063.9 363.9C1063.2 366 1061.5 368.2 1060.8 370.3C1060.1 372.4 1060 376.1 1059.2 378.2C1058.4 380.3 1056.6 382.6 1055.3 384.5C1054 386.4 1051.6 388.9 1050.5 390.8C1049.4 392.7 1048.7 395.5 1048.2 397C1047.7 398.5 1048.1 399.3 1047.1 400.5C1046.1 401.7 1042.9 403.8 1041.6 405.3C1040.3 406.8 1038.8 409.2 1038.4 410.8C1038 412.4 1038.3 414.5 1038.7 416.3C1039.1 418.1 1040.2 420.8 1040.8 422.6C1041.4 424.4 1041.9 426.3 1042.4 428.2C1042.9 430.1 1043.4 433.1 1043.9 435.3C1044.4 437.6 1044.9 440.8 1045.5 443.2C1046.1 445.6 1047.2 448.7 1047.9 451.1C1048.6 453.5 1049.5 456.5 1050.3 458.9C1051.1 461.3 1052.5 465 1053.4 466.8C1054.3 468.6 1055.2 469 1056.1 470.8C1057 472.6 1058.3 476.3 1059.2 478.7C1060.1 481.1 1061.5 484.2 1062.4 486.6C1063.3 489 1065 492.1 1065.5 494.5C1066 496.9 1065.7 500 1065.5 502.4C1065.3 504.8 1064 507.9 1063.9 510.3C1063.8 512.7 1064.9 515.8 1065.1 518.2C1065.3 520.6 1065.6 523.7 1065.5 526.1C1065.4 528.5 1064.9 532.2 1064.7 534C1064.5 535.8 1064.5 537.4 1064.5 538L1170 540L1170 320Z" fill="#92cf82"/>
<path d="M1067.5 324C1067.4 324.4 1067.2 325.3 1066.6 326.8C1066 328.3 1064.3 331.6 1063.4 333.9C1062.5 336.1 1060.6 339.4 1060.3 341.8C1060 344.2 1060.4 347.6 1061.1 349.7C1061.8 351.8 1064.7 354 1065 356.1C1065.3 358.2 1064.1 361.8 1063.4 363.9C1062.7 366 1061 368.2 1060.3 370.3C1059.6 372.4 1059.5 376.1 1058.7 378.2C1057.9 380.3 1056.1 382.6 1054.8 384.5C1053.5 386.4 1051.1 388.9 1050 390.8C1048.9 392.7 1048.2 395.5 1047.7 397C1047.2 398.5 1046.8 400 1046.6 400.5L1050 401.3C1050.9 401.1 1054 400.5 1055.8 399.7C1057.6 398.9 1060 397.3 1062.1 395.8C1064.2 394.3 1068 391.4 1069.7 389.5C1071.4 387.6 1072.5 385.1 1073.1 382.9C1073.7 380.7 1073.7 377.6 1073.9 375C1074.1 372.4 1074.6 368.3 1074.7 365.5C1074.8 362.7 1074.5 358.9 1074.7 356.1C1074.9 353.3 1075.9 349.2 1076.3 346.6C1076.7 344 1077.1 341.3 1077.1 338.7C1077.1 336.1 1076.4 331.4 1076.3 329.2C1076.2 327 1076.3 324.8 1076.3 324Z" fill="url(#dots)"/>
<path d="M1041.9 428.2C1042.1 429.3 1042.9 433.1 1043.4 435.3C1043.9 437.6 1044.4 440.8 1045 443.2C1045.6 445.6 1046.7 448.7 1047.4 451.1C1048.1 453.5 1049 456.5 1049.8 458.9C1050.6 461.3 1052 465 1052.9 466.8C1053.8 468.6 1054.7 469 1055.6 470.8C1056.5 472.6 1057.8 476.3 1058.7 478.7C1059.6 481.1 1061 484.2 1061.9 486.6C1062.8 489 1064.5 492.1 1065 494.5C1065.5 496.9 1065.2 500 1065 502.4C1064.8 504.8 1063.5 507.9 1063.4 510.3C1063.3 512.7 1064.4 515.8 1064.6 518.2C1064.8 520.6 1065.1 523.7 1065 526.1C1064.9 528.5 1064.4 532.2 1064.2 534C1064 535.8 1064 537.4 1064 538L1076.3 538C1076.3 537.2 1076.1 534.2 1076.3 532.4C1076.5 530.6 1077.7 528.2 1077.9 526.1C1078.1 524 1078.1 520.6 1077.9 518.2C1077.7 515.8 1076.5 512.7 1076.3 510.3C1076.1 507.9 1076.3 504.8 1076.3 502.4C1076.3 500 1076.5 496.9 1076.3 494.5C1076.1 492.1 1075.3 489 1074.7 486.6C1074.1 484.2 1073.2 481.1 1072.4 478.7C1071.6 476.3 1070.4 473.3 1069.2 470.8C1068 468.3 1065.4 464.6 1064.2 462.1C1063 459.6 1061.7 456.6 1061 454.2C1060.3 451.8 1060.1 448.4 1059.5 446.3C1058.9 444.2 1058.1 441.9 1057.1 440C1056.1 438.1 1054.5 435.4 1053.1 433.7C1051.7 432 1048.7 429.6 1047.9 428.9Z" fill="url(#dots)"/>
</g>
<rect x="983.3" y="381.1" width="49.5" height="4.4" fill="#1b75bc"/>
<path d="M987.6 429.5C988.8 429.4 992.1 429.5 994.5 429.2C996.9 428.9 999.5 428.2 1001.8 427.6C1004.1 427 1006.6 426.4 1008.2 425.5C1009.8 424.6 1010.2 423.4 1011.3 422.4C1012.3 421.4 1013.1 420.4 1014.5 419.7C1015.9 419 1018 418.6 1019.7 418.2C1021.5 417.8 1023.9 417.5 1025 417.3C1026.1 417.1 1025.9 417.2 1026.1 417.2" fill="none" stroke="#0a1a1f" stroke-width="2.0" stroke-linecap="butt" stroke-linejoin="round"/>
<path d="M987.6 429.5C988.8 429.4 992.1 429.5 994.5 429.2C996.9 428.9 999.5 428.2 1001.8 427.6C1004.1 427 1006.6 426.4 1008.2 425.5C1009.8 424.6 1010.2 423.4 1011.3 422.4C1012.3 421.4 1014 420.1 1014.5 419.7" fill="none" stroke="#0a1a1f" stroke-width="2.5" stroke-linecap="butt"/>
<path d="M987.6 429.5C988.8 429.4 992.1 429.5 994.5 429.2C996.9 428.9 1000.6 427.9 1001.8 427.6" fill="none" stroke="#0a1a1f" stroke-width="3" stroke-linecap="butt"/>
<path d="M1031.3 416.9L1024 420.9L1024.9 417.3L1023.6 413.9Z" fill="#0a1a1f"/>
<path d="M1111.6 399.7C1110.5 399.8 1107.4 399.9 1105.3 400.3C1103.2 400.7 1100.6 401.1 1098.9 401.8C1097.2 402.5 1096.2 403.4 1095.3 404.5C1094.3 405.6 1093.9 407.1 1093.2 408.2C1092.5 409.3 1092.2 410.4 1091.1 411.3C1090 412.2 1088.3 412.8 1086.8 413.4C1085.3 414 1083.1 414.7 1082.1 415C1081.1 415.3 1080.9 415.3 1080.7 415.3" fill="none" stroke="#07140a" stroke-width="2.0" stroke-linecap="butt" stroke-linejoin="round"/>
<path d="M1111.6 399.7C1110.5 399.8 1107.4 399.9 1105.3 400.3C1103.2 400.7 1100.6 401.1 1098.9 401.8C1097.2 402.5 1096.2 403.4 1095.3 404.5C1094.3 405.6 1093.9 407.1 1093.2 408.2C1092.5 409.3 1091.4 410.8 1091.1 411.3" fill="none" stroke="#07140a" stroke-width="2.5" stroke-linecap="butt"/>
<path d="M1111.6 399.7C1110.5 399.8 1107.4 399.9 1105.3 400.3C1103.2 400.7 1100 401.6 1098.9 401.8" fill="none" stroke="#07140a" stroke-width="3" stroke-linecap="butt"/>
<path d="M1075.6 416.6L1082 411.4L1081.8 415.1L1083.7 418.2Z" fill="#07140a"/>
<path d="M933.6 515.5L1024.8 444.5" fill="none" stroke="#0a0a0a" stroke-width="2.0" stroke-linecap="butt" stroke-linejoin="round"/>
<path d="M1029.2 441.1L1024.7 448.4L1023.8 445.3L1021 443.6Z" fill="#0a0a0a"/>
<g id="connectors" fill="none" style="mix-blend-mode:multiply">
<circle cx="314.3" cy="126.4" r="9.1" stroke="#0f2f24" stroke-width="1.7" stroke-dasharray="4.4 3"/>
<circle cx="334.5" cy="183.3" r="9.1" stroke="#0f2f24" stroke-width="1.7" stroke-dasharray="4.4 3"/>
<line x1="305.3" y1="126.8" x2="59" y2="337.5" stroke="#2b2b2b" stroke-width="1.25" stroke-dasharray="4.6 3.3"/>
<line x1="320.2" y1="134.5" x2="232" y2="458" stroke="#2b2b2b" stroke-width="1.25" stroke-dasharray="4.6 3.3"/>
<line x1="326.6" y1="186" x2="440.3" y2="475.5" stroke="#2b2b2b" stroke-width="1.25" stroke-dasharray="4.6 3.3"/>
<line x1="343.9" y1="177" x2="608" y2="345" stroke="#2b2b2b" stroke-width="1.25" stroke-dasharray="4.6 3.3"/>
<line x1="572" y1="434.5" x2="688.5" y2="151" stroke="#2b2b2b" stroke-width="1.25" stroke-dasharray="4.6 3.3"/>
<line x1="573" y1="473" x2="829.4" y2="288.5" stroke="#2b2b2b" stroke-width="1.25" stroke-dasharray="4.6 3.3"/>
<line x1="810.8" y1="223.4" x2="1064" y2="320.5" stroke="#2b2b2b" stroke-width="1.25" stroke-dasharray="4.6 3.3"/>
<path d="M821.9 273L829.6 289L942 474" stroke="#2b2b2b" stroke-width="1.25" stroke-dasharray="4.6 3.3"/>
</g>
<g id="labels" opacity="0.999">
<text><tspan x="314.27" y="30.00" font-size="34.29" textLength="27.10" lengthAdjust="spacingAndGlyphs" fill="#000" style="font-family:'DejaVu Sans',sans-serif">+</tspan></text>
<text><tspan x="318.67" y="339.90" font-size="33.33" textLength="19.47" lengthAdjust="spacingAndGlyphs" fill="#000" font-weight="700">−</tspan></text>
<text><tspan x="314.07" y="104.60" font-size="22.61" textLength="15.18" lengthAdjust="spacingAndGlyphs" fill="#1a4f08" font-weight="700" stroke="#1a4f08" stroke-width="0.4">Li</tspan></text>
<text><tspan x="313.17" y="250.10" font-size="22.32" textLength="15.91" lengthAdjust="spacingAndGlyphs" fill="#123f0a">Li</tspan></text>
<text><tspan x="391.16" y="104.66" font-size="23.83" textLength="74.28" lengthAdjust="spacingAndGlyphs" fill="#1a1a1a" font-weight="350">脱锂侧</tspan></text>
<text><tspan x="392.29" y="197.98" font-size="22.45" textLength="68.41" lengthAdjust="spacingAndGlyphs" fill="#1a1a1a" font-weight="350">沉积侧</tspan></text>
<text><tspan x="335.97" y="531.64" font-size="25.11" textLength="72.98" lengthAdjust="spacingAndGlyphs" fill="#1a1a1a" font-weight="350">锂枝晶</tspan></text>
<text><tspan x="21.79" y="227.17" font-size="17.39" textLength="6.78" lengthAdjust="spacingAndGlyphs" fill="#1a1a1a">“</tspan><tspan x="27.66" y="231.93" font-size="24.62" textLength="49.12" lengthAdjust="spacingAndGlyphs" fill="#1a1a1a" font-weight="350">死锂</tspan><tspan x="78.08" y="227.00" font-size="17.39" textLength="6.91" lengthAdjust="spacingAndGlyphs" fill="#1a1a1a">”</tspan><tspan> </tspan><tspan x="100.40" y="231.95" font-size="24.59" textLength="9.82" lengthAdjust="spacingAndGlyphs" fill="#1a1a1a" stroke="#fff" stroke-width="0.9">/</tspan><tspan x="111.47" y="231.89" font-size="24.57" textLength="48.87" lengthAdjust="spacingAndGlyphs" fill="#1a1a1a" font-weight="350">锂粉</tspan></text>
<text><tspan x="833.51" y="541.55" font-size="25.28" textLength="31.82" lengthAdjust="spacingAndGlyphs" fill="#1a1a1a" stroke="#fff" stroke-width="0.6">SEI</tspan><tspan> </tspan><tspan x="871.81" y="541.18" font-size="24.68" textLength="49.18" lengthAdjust="spacingAndGlyphs" fill="#1a1a1a" font-weight="350">破裂</tspan></text>
<text><tspan x="54.76" y="372.60" font-size="22.03" textLength="61.68" lengthAdjust="spacingAndGlyphs" fill="#0f3540" stroke="#7bc4dc" stroke-width="0.2">10 μm</tspan></text>
<text><tspan x="60.94" y="471.00" font-size="22.75" textLength="16.15" lengthAdjust="spacingAndGlyphs" fill="#0f3540" stroke="#7bc4dc" stroke-width="0.2">Li</tspan><tspan x="77.81" y="465.53" font-size="14.80" textLength="8.64" lengthAdjust="spacingAndGlyphs" fill="#0f3540">+</tspan></text>
<text><tspan x="200.53" y="441.70" font-size="21.59" textLength="15.29" lengthAdjust="spacingAndGlyphs" fill="#103516" stroke="#92cf82" stroke-width="0.12">Li</tspan></text>
<text><tspan x="465.27" y="381.20" font-size="22.46" textLength="61.31" lengthAdjust="spacingAndGlyphs" fill="#0f3540" stroke="#7bc4dc" stroke-width="0.2">10 μm</tspan></text>
<text><tspan x="468.59" y="483.20" font-size="22.17" textLength="14.68" lengthAdjust="spacingAndGlyphs" fill="#0f3540" stroke="#7bc4dc" stroke-width="0.2">Li</tspan><tspan x="484.64" y="475.36" font-size="14.00" textLength="8.18" lengthAdjust="spacingAndGlyphs" fill="#0f3540">+</tspan></text>
<text><tspan x="623.73" y="426.99" font-size="20.55" textLength="12.17" lengthAdjust="spacingAndGlyphs" fill="#103516" stroke="#92cf82" stroke-width="0.12">e</tspan><tspan x="637.51" y="420.49" font-size="16.25" textLength="4.93" lengthAdjust="spacingAndGlyphs" fill="#103516">-</tspan></text>
<text><tspan x="596.82" y="503.40" font-size="22.03" textLength="15.42" lengthAdjust="spacingAndGlyphs" fill="#103516" stroke="#92cf82" stroke-width="0.12">Li</tspan></text>
<text><tspan x="719.25" y="131.70" font-size="22.75" textLength="49.54" lengthAdjust="spacingAndGlyphs" fill="#0f3540" stroke="#7bc4dc" stroke-width="0.2">1 μm</tspan></text>
<text><tspan x="708.68" y="210.70" font-size="22.17" textLength="15.78" lengthAdjust="spacingAndGlyphs" fill="#0f3540" stroke="#7bc4dc" stroke-width="0.2">Li</tspan><tspan x="725.00" y="204.70" font-size="15.00" textLength="8.76" lengthAdjust="spacingAndGlyphs" fill="#0f3540">+</tspan></text>
<text><tspan x="754.30" y="273.70" font-size="21.88" textLength="15.54" lengthAdjust="spacingAndGlyphs" fill="#0f3540" stroke="#7bc4dc" stroke-width="0.2">Li</tspan><tspan x="770.59" y="267.77" font-size="15.20" textLength="8.88" lengthAdjust="spacingAndGlyphs" fill="#0f3540">+</tspan></text>
<text><tspan x="838.93" y="134.80" font-size="21.88" textLength="16.27" lengthAdjust="spacingAndGlyphs" fill="#103516" stroke="#92cf82" stroke-width="0.12">Li</tspan></text>
<text><tspan x="870.01" y="179.79" font-size="20.73" textLength="11.01" lengthAdjust="spacingAndGlyphs" fill="#103516" stroke="#92cf82" stroke-width="0.12">e</tspan><tspan x="882.17" y="174.02" font-size="17.50" textLength="6.93" lengthAdjust="spacingAndGlyphs" fill="#103516">-</tspan></text>
<text><tspan x="974.86" y="372.70" font-size="22.46" textLength="73.32" lengthAdjust="spacingAndGlyphs" fill="#0f3540" stroke="#7bc4dc" stroke-width="0.2">100 nm</tspan></text>
<text><tspan x="953.75" y="437.30" font-size="21.88" textLength="15.05" lengthAdjust="spacingAndGlyphs" fill="#0f3540" stroke="#7bc4dc" stroke-width="0.2">Li</tspan><tspan x="970.94" y="430.56" font-size="14.00" textLength="8.18" lengthAdjust="spacingAndGlyphs" fill="#0f3540">+</tspan></text>
<text><tspan x="1110.85" y="418.69" font-size="20.55" textLength="13.21" lengthAdjust="spacingAndGlyphs" fill="#103516" stroke="#92cf82" stroke-width="0.12">e</tspan><tspan x="1124.97" y="413.01" font-size="23.75" textLength="6.93" lengthAdjust="spacingAndGlyphs" fill="#103516">-</tspan></text>
<text><tspan x="1097.74" y="489.90" font-size="22.03" textLength="15.77" lengthAdjust="spacingAndGlyphs" fill="#153a0d" font-weight="700" stroke="#153a0d" stroke-width="0.15">Li</tspan></text>
</g>
</svg>
</body></html>
